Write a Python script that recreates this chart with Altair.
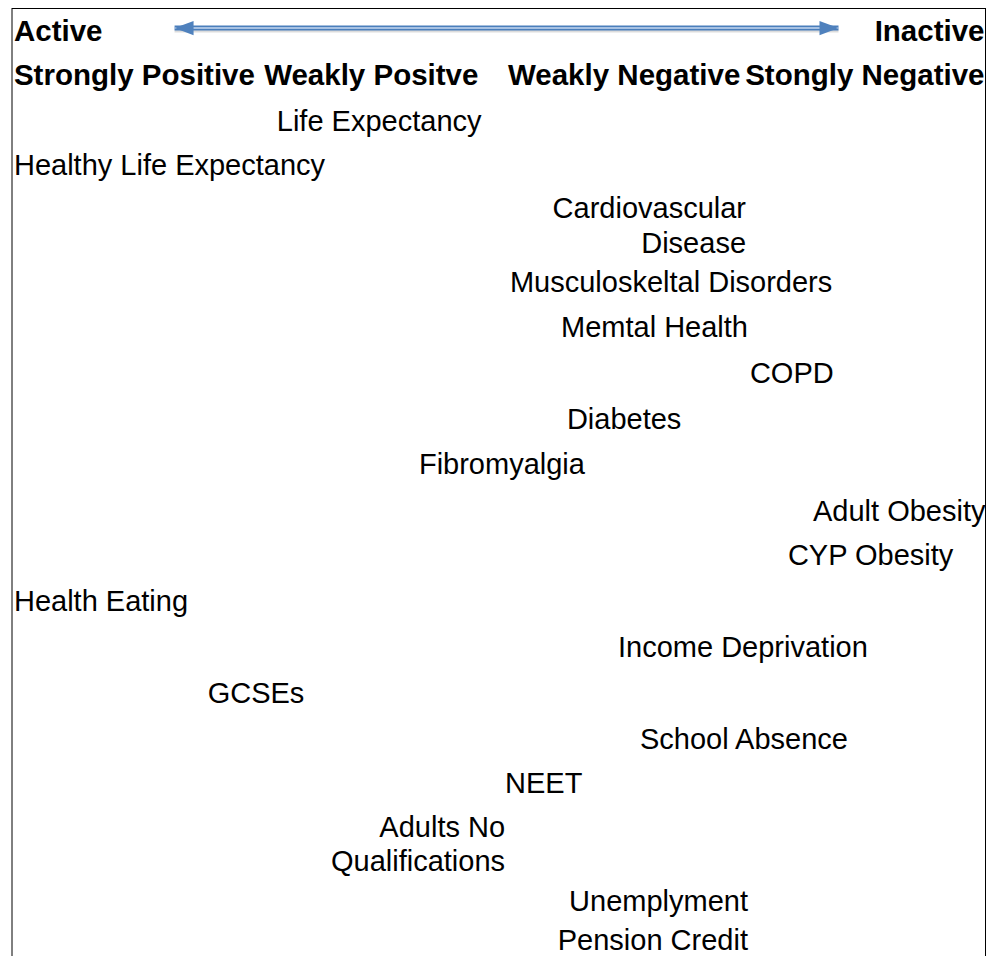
import altair as alt
import pandas as pd

# ---- header texts (score 0 = Active / strongly positive, 100 = Inactive / strongly negative)
head_text = ["Active", "Inactive", "Strongly Positive", "Weakly Positve",
             "Weakly Negative", "Stongly Negative"]
head_score = [0.2, 99.9, 0.2, 25.9, 50.95, 99.9]
head_row = [0, 0, 0.97, 0.97, 0.97, 0.97]
head_align = ["left", "right", "left", "left", "left", "right"]

# ---- indicator labels
label_text = ["Life Expectancy", "Healthy Life Expectancy", "Cardiovascular", "Disease",
              "Musculoskeltal Disorders", "Memtal Health", "COPD", "Diabetes",
              "Fibromyalgia", "Adult Obesity", "CYP Obesity", "Health Eating",
              "Income Deprivation", "GCSEs", "School Absence", "NEET",
              "Adults No", "Qualifications", "Unemplyment", "Pension Credit"]
label_score = [27.2, 0.2, 75.4, 75.4,
               51.15, 75.6, 75.8, 57.0,
               41.8, 100.0, 79.7, 0.2,
               62.25, 20.1, 64.5, 50.65,
               50.65, 50.65, 75.6, 75.6]
label_row = [1.97, 2.94, 3.88, 4.65,
             5.51, 6.49, 7.50, 8.51,
             9.49, 10.53, 11.49, 12.50,
             13.51, 14.52, 15.53, 16.49,
             17.46, 18.20, 19.08, 19.93]
label_align = ["left", "left", "right", "right",
               "left", "right", "left", "left",
               "left", "right", "left", "left",
               "left", "left", "left", "left",
               "right", "right", "right", "right"]

# ---- arrow (double headed) between Active and Inactive
arrow_start = 16.7
arrow_end = 84.9
arrow_row = -0.285

# ---- frame
frame_left = 0
frame_right = 100

xs = alt.Scale(domain=[0, 100], range=[0, 973.5])
ys = alt.Scale(domain=[0, 20], range=[33, 945])

heads = pd.DataFrame({"text": head_text, "score": head_score, "row": head_row, "align": head_align})
labs = pd.DataFrame({"text": label_text, "score": label_score, "row": label_row, "align": label_align})
arrow = pd.DataFrame({"x": [arrow_start], "x2": [arrow_end], "row": [arrow_row]})
heads_df = pd.DataFrame({"x": [arrow_start, arrow_end], "row": [arrow_row, arrow_row],
                         "dir": ["left", "right"]})
frame_v = pd.DataFrame({"x": [frame_left, frame_right]})
frame_h = pd.DataFrame({"x": [frame_left], "x2": [frame_right]})

FONT = "Liberation Sans, Arial, sans-serif"


def text_layer(df, align, bold):
    sub = df[df["align"] == align]
    return alt.Chart(sub).mark_text(
        align=align, baseline="alphabetic", font=FONT,
        fontSize=29.5 if bold else 29, fontWeight="bold" if bold else "normal",
        color="#000000"
    ).encode(
        x=alt.X("score:Q", scale=xs, axis=None),
        y=alt.Y("row:Q", scale=ys, axis=None),
        text="text:N",
    )


layers = []
# frame
layers.append(alt.Chart(frame_v).mark_rule(color="#000000", strokeWidth=1).encode(
    x=alt.X("x:Q", scale=xs, axis=None), y=alt.value(0), y2=alt.value(948)))
layers.append(alt.Chart(frame_h).mark_rule(color="#000000", strokeWidth=1).encode(
    x=alt.X("x:Q", scale=xs, axis=None), x2="x2:Q", y=alt.value(0.5)))

# arrow shadow, shaft
layers.append(alt.Chart(arrow).mark_rule(color="#9a9a9a", strokeWidth=3, opacity=0.35).encode(
    x=alt.X("x:Q", scale=xs, axis=None), x2="x2:Q",
    y=alt.Y("row:Q", scale=ys, axis=None), yOffset=alt.value(3)))
layers.append(alt.Chart(arrow).mark_rule(color="#4A7EBB", strokeWidth=5).encode(
    x=alt.X("x:Q", scale=xs, axis=None), x2="x2:Q",
    y=alt.Y("row:Q", scale=ys, axis=None)))
layers.append(alt.Chart(arrow).mark_rule(color="#C6D9F1", strokeWidth=1.4).encode(
    x=alt.X("x:Q", scale=xs, axis=None), x2="x2:Q",
    y=alt.Y("row:Q", scale=ys, axis=None)))

# arrow heads
left_head = heads_df[heads_df["dir"] == "left"]
right_head = heads_df[heads_df["dir"] == "right"]
layers.append(alt.Chart(left_head).mark_point(
    shape="M -1 0 L 1 -0.75 L 1 0.75 Z", size=361, filled=True, color="#4F81BD", opacity=1
).encode(x=alt.X("x:Q", scale=xs, axis=None), y=alt.Y("row:Q", scale=ys, axis=None),
         xOffset=alt.value(9.5)))
layers.append(alt.Chart(right_head).mark_point(
    shape="M 1 0 L -1 -0.75 L -1 0.75 Z", size=361, filled=True, color="#4F81BD", opacity=1
).encode(x=alt.X("x:Q", scale=xs, axis=None), y=alt.Y("row:Q", scale=ys, axis=None),
         xOffset=alt.value(-9.5)))

# texts
layers.append(text_layer(heads, "left", True))
layers.append(text_layer(heads, "right", True))
layers.append(text_layer(labs, "left", False))
layers.append(text_layer(labs, "right", False))

chart = alt.layer(*layers).properties(
    width=974, height=948,
    padding={"left": 4, "right": 0, "top": 0, "bottom": 0},
    autosize=alt.AutoSizeParams(type="none"),
    background="#ffffff",
).configure_view(stroke=None)

chart.save("out.html", embed_options={"renderer": "svg", "actions": False})
